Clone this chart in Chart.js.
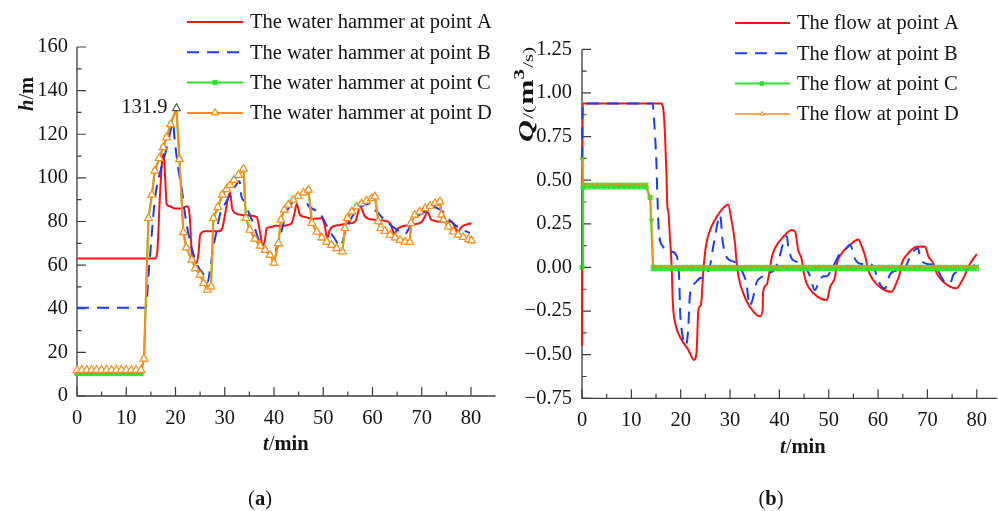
<!DOCTYPE html>
<html>
<head>
<meta charset="utf-8">
<script src="https://cdn.jsdelivr.net/npm/chart.js@4.4.1/dist/chart.umd.min.js"></script>
<style>
  html, body { margin: 0; padding: 0; background: #fff; }
  #wrap { position: relative; width: 998px; height: 511px; overflow: hidden; }
  .pane { position: absolute; top: 0; width: 499px; height: 511px; }
  #pa { left: 0; }
  #pb { left: 499px; }
</style>
</head>
<body>
<div id="wrap">
  <div class="pane" id="pa"><canvas id="ca" width="499" height="511"></canvas></div>
  <div class="pane" id="pb"><canvas id="cb" width="499" height="511"></canvas></div>
</div>
<script>
// ---------- tick labels ----------
const timeTicks = [0, 10, 20, 30, 40, 50, 60, 70, 80];
const headTicks = [0, 20, 40, 60, 80, 100, 120, 140, 160];
const flowTicks = [-0.75, -0.5, -0.25, 0, 0.25, 0.5, 0.75, 1.0, 1.25];

// ---------- legend labels ----------
const headLabels = ['The water hammer at point A', 'The water hammer at point B',
                    'The water hammer at point C', 'The water hammer at point D'];
const flowLabels = ['The flow at point A', 'The flow at point B',
                    'The flow at point C', 'The flow at point D'];

// ---------- (a) water hammer head h (m) vs time t (min) ----------
const headA = [[0,63],[15.8,63],[16.3,66],[16.8,90],[17.3,108],[17.6,111],[17.9,100],[18.2,88],[18.8,87],
  [19.9,86],[21.2,86],[22.3,87],[22.6,86.5],[22.9,82],[23.3,66],[23.8,62],[24.3,61],[24.7,66],[25.0,73.8],
  [26,75.5],[27,75.5],[28.7,75.5],[29.5,77],[30.2,85],[30.8,92],[31.1,93.2],[31.5,86],[32,84],[33.5,83],
  [35,82.8],[36.5,82],[37.1,76],[37.7,69],[38.2,72],[38.5,76.9],[39.5,77.5],[40.2,78],[41.5,78],[43.5,79],
  [44.2,84],[44.6,88],[45.3,83],[46.5,82],[47.7,81.2],[49.7,81.5],[50.3,78],[50.8,72.3],[51.3,76],
  [51.7,77.3],[53.4,78.4],[55.4,79.2],[56.5,80],[57.5,86.8],[58.5,82.2],[59.5,81],[60.9,80.7],[62.2,80.4],
  [63.6,79.2],[64.1,76],[64.4,74.3],[65.2,76.9],[67.6,78.4],[70,79.9],[70.6,82],[71.1,84.5],[72,80.7],
  [74,79.9],[76.1,79.9],[76.8,77],[77.4,75.3],[78.1,77.6],[80.1,79.2]];

const headB = [[0,40.5],[14.0,40.5],[14.5,54.7],[15.2,74.6],[15.8,89.9],[16.9,102.8],[18.2,113.6],
  [19.2,123.5],[19.5,125],[19.9,115.9],[20.6,103.6],[21.3,94.5],[21.9,83.8],[22.6,74.6],[23.6,65.4],
  [24.6,59.3],[25.5,56.5],[26.0,54.7],[26.5,52],[27.0,57.8],[27.7,68.5],[28.4,76.1],[29.0,83],[30.1,88.3],
  [31.1,92.2],[32.1,96],[33.0,98.5],[33.4,91.4],[34.1,89.1],[34.8,84.5],[35.8,79.2],[36.8,72.3],[37.8,68],
  [38.8,65.5],[39.9,63.9],[40.9,71.5],[41.6,76.1],[42.5,84],[43.5,88],[44.5,90.5],[45.5,92.5],[46.3,93.5],
  [46.8,88],[47.7,86],[49.3,83.9],[50.5,79],[51.5,75],[52.5,71.5],[53.4,68.5],[54.8,77.6],[55.8,82],
  [57,85.5],[58.3,87.5],[59.5,88.3],[60.1,86],[60.9,84.5],[62.3,81],[63.6,78.5],[64.8,76.5],[66.0,75],
  [66.6,74.2],[67.2,76],[68.0,79.5],[69.5,83],[71,85],[72.3,86.8],[73.2,86],[74.3,84.5],[75.5,81],
  [77,78],[78.5,76],[79.8,74.7]];

const headC = [[0,10.3],[1,10.3],[2,10.3],[3,10.3],[4,10.3],[5,10.3],[6,10.3],[7,10.3],[8,10.3],[9,10.3],
  [10,10.3],[11,10.3],[12,10.3],[13,10.3],[13.6,17],[14.5,81.5],[15.2,92.2],[15.8,103.2],[16.7,109],
  [17.5,114],[18.2,118.5],[19.0,124.5],[20.2,131.9],[20.8,108.5],[21.6,75],[22.2,68],[23.3,62.4],[24.0,58.5],
  [25.0,55.5],[25.7,51.7],[26.5,48.6],[27.2,50.1],[27.7,81.5],[28.6,86.5],[29.5,92.2],[30.4,94.9],[31.1,96.7],
  [31.9,99],[32.8,101.3],[33.8,104.1],[34.3,81.5],[35.1,76.1],[36.1,72],[37.2,68.8],[38.2,66.9],[39.2,64.6],
  [40.0,61],[40.9,70],[41.4,80.7],[42.1,85.3],[42.9,87.6],[43.9,89.9],[44.9,91.7],[46.0,93.2],[47.0,94.5],
  [47.7,79.2],[48.7,75.3],[49.7,72.6],[50.7,70.7],[51.7,69.2],[52.7,67.7],[53.9,66.2],[54.4,76.9],[54.9,81.5],
  [55.8,84.5],[56.8,86.8],[57.8,88.3],[58.8,89.5],[59.8,90.6],[60.5,91.4],[61.2,80],[61.7,77],[62.5,75.6],
  [63.6,73.8],[64.6,72.6],[65.6,71.5],[66.6,70.7],[67.6,70.5],[67.8,79.2],[68.6,83],[69.6,84.5],[70.7,86],
  [71.7,87.1],[72.7,88.3],[73.7,89.1],[74.0,83],[74.4,80.7],[75.4,77.6],[76.4,75.3],[77.4,73.8],[78.4,72.8],
  [79.5,71.8],[80.1,71.2]];

const headD = [[0,11.9],[1,11.9],[2,11.9],[3,11.9],[4,11.9],[5,11.9],[6,11.9],[7,11.9],[8,11.9],[9,11.9],
  [10,11.9],[11,11.9],[12,11.9],[13,11.9],[13.6,17],[14.5,81.5],[15.2,92.2],[15.8,103.2],[16.7,109],
  [17.5,114],[18.2,118.5],[19.0,124.5],[20.2,131.9],[20.8,108.5],[21.6,75],[22.2,68],[23.3,62.4],[24.0,58.5],
  [25.0,55.5],[25.7,51.7],[26.5,48.6],[27.2,50.1],[27.7,81.5],[28.6,86.5],[29.5,92.2],[30.4,94.9],[31.1,96.7],
  [31.9,99],[32.8,101.3],[33.8,104.1],[34.3,81.5],[35.1,76.1],[36.1,72],[37.2,68.8],[38.2,66.9],[39.2,64.6],
  [40.0,61],[40.9,70],[41.4,80.7],[42.1,85.3],[42.9,87.6],[43.9,89.9],[44.9,91.7],[46.0,93.2],[47.0,94.5],
  [47.7,79.2],[48.7,75.3],[49.7,72.6],[50.7,70.7],[51.7,69.2],[52.7,67.7],[53.9,66.2],[54.4,76.9],[54.9,81.5],
  [55.8,84.5],[56.8,86.8],[57.8,88.3],[58.8,89.5],[59.8,90.6],[60.5,91.4],[61.2,80],[61.7,77],[62.5,75.6],
  [63.6,73.8],[64.6,72.6],[65.6,71.5],[66.6,70.7],[67.6,70.5],[67.8,79.2],[68.6,83],[69.6,84.5],[70.7,86],
  [71.7,87.1],[72.7,88.3],[73.7,89.1],[74.0,83],[74.4,80.7],[75.4,77.6],[76.4,75.3],[77.4,73.8],[78.4,72.8],
  [79.5,71.8],[80.1,71.2]];

// ---------- (b) flow Q (m3/s) vs time t (min) ----------
const flowA = [[0,-0.45],[0.15,0.94],[16.0,0.94],[16.5,0.90],[16.8,0.77],[17.1,0.55],[17.3,0.35],[17.5,0.32],
  [17.8,0.18],[18.2,-0.015],[18.4,-0.2],[18.9,-0.32],[19.9,-0.40],[21.5,-0.47],[22.7,-0.53],[23.2,-0.49],
  [23.6,-0.24],[24.1,-0.215],[24.6,-0.015],[25.1,0.12],[25.9,0.21],[27.3,0.29],[28.6,0.34],[29.6,0.36],
  [30.3,0.27],[31.0,0.14],[31.3,0.04],[31.7,-0.05],[32.7,-0.15],[34.0,-0.225],[36.1,-0.28],[36.6,-0.245],
  [36.7,-0.14],[37.4,-0.10],[38.0,-0.024],[38.4,0.05],[39.1,0.11],[40.8,0.176],[42.5,0.214],[43.2,0.205],
  [43.8,0.10],[44.5,0.05],[44.9,-0.024],[45.5,-0.09],[46.9,-0.148],[49.6,-0.187],[50.3,-0.11],[51.3,-0.052],
  [51.6,0.015],[52.6,0.08],[54.0,0.12],[56.0,0.16],[56.7,0.12],[57.4,0.063],[58.0,-0.015],[59.0,-0.072],
  [60.7,-0.12],[62.7,-0.14],[63.7,-0.09],[64.4,-0.034],[64.8,0.023],[65.8,0.071],[67.8,0.118],[69.5,0.12],
  [70.2,0.063],[71.2,0.023],[71.9,-0.034],[73.2,-0.082],[75.9,-0.12],[76.9,-0.082],[77.6,-0.043],
  [78.3,0.005],[80.0,0.077]];

const flowB = [[0,0.62],[0.15,0.94],[14.3,0.94],[14.6,0.85],[15.1,0.58],[15.3,0.39],[15.6,0.195],[16.4,0.12],
  [16.8,0.10],[18.2,0.09],[19.2,0.063],[19.7,-0.07],[19.9,-0.26],[20.2,-0.36],[21.1,-0.445],[21.5,-0.36],
  [21.9,-0.15],[22.9,-0.09],[23.9,-0.062],[24.9,-0.052],[25.9,0.005],[26.6,0.12],[27.6,0.27],[28.0,0.30],
  [28.5,0.15],[29.0,0.08],[29.7,0.045],[31.0,0.03],[32.4,-0.02],[33.3,-0.09],[34.0,-0.22],[34.6,-0.18],
  [35.4,-0.085],[36.4,-0.055],[38.0,-0.03],[38.8,-0.02],[39.8,0.04],[40.8,0.14],[41.5,0.18],[41.8,0.12],
  [42.5,0.05],[43.8,0.03],[45.2,0.005],[46.2,-0.05],[47.2,-0.13],[47.9,-0.09],[48.9,-0.05],[49.6,-0.05],
  [50.6,-0.01],[52.3,0.08],[53.3,0.10],[54.3,0.13],[55.0,0.08],[55.3,0.05],[56.6,0.02],[58.4,0.02],
  [59.4,-0.02],[59.7,-0.05],[60.7,-0.11],[61.4,-0.12],[62.4,-0.04],[63.4,-0.02],[65.1,-0.015],[66.8,0.08],
  [68.1,0.11],[68.5,0.06],[68.8,0.04],[69.9,0.02],[71.6,0.01],[72.9,-0.06],[73.9,-0.09],[74.6,-0.09],
  [75.3,-0.04],[76.3,-0.025],[78,-0.01],[80,0.02]];

const flowC = [[0,0],[0.2,0.46],[1,0.46],[2,0.46],[3,0.46],[4,0.46],[5,0.46],[6,0.46],[7,0.46],[8,0.46],
  [9,0.46],[10,0.46],[11,0.46],[12,0.46],[13,0.46],[13.8,0.40],[14.4,-0.008],[15,-0.008],[16,-0.008],
  [17,-0.008],[18,-0.008],[19,-0.008],[20,-0.008],[21,-0.008],[22,-0.008],[23,-0.008],[24,-0.008],
  [25,-0.008],[26,-0.008],[27,-0.008],[28,-0.008],[29,-0.008],[30,-0.008],[31,-0.008],[32,-0.008],
  [33,-0.008],[34,-0.008],[35,-0.008],[36,-0.008],[37,-0.008],[38,-0.008],[39,-0.008],[40,-0.008],
  [41,-0.008],[42,-0.008],[43,-0.008],[44,-0.008],[45,-0.008],[46,-0.008],[47,-0.008],[48,-0.008],
  [49,-0.008],[50,-0.008],[51,-0.008],[52,-0.008],[53,-0.008],[54,-0.008],[55,-0.008],[56,-0.008],
  [57,-0.008],[58,-0.008],[59,-0.008],[60,-0.008],[61,-0.008],[62,-0.008],[63,-0.008],[64,-0.008],
  [65,-0.008],[66,-0.008],[67,-0.008],[68,-0.008],[69,-0.008],[70,-0.008],[71,-0.008],[72,-0.008],
  [73,-0.008],[74,-0.008],[75,-0.008],[76,-0.008],[77,-0.008],[78,-0.008],[79,-0.008],[80,-0.008]];

const flowD = [[0,0.62],[0.2,0.476],[1,0.476],[2,0.476],[3,0.476],[4,0.476],[5,0.476],[6,0.476],[7,0.476],
  [8,0.476],[9,0.476],[10,0.476],[11,0.476],[12,0.476],[13,0.476],[13.8,0.405],[14.1,0.27],[14.4,0.005],
  [15,0.005],[16,0.005],[17,0.005],[18,0.005],[19,0.005],[20,0.005],[21,0.005],[22,0.005],[23,0.005],
  [24,0.005],[25,0.005],[26,0.005],[27,0.005],[28,0.005],[29,0.005],[30,0.005],[31,0.005],[32,0.005],
  [33,0.005],[34,0.005],[35,0.005],[36,0.005],[37,0.005],[38,0.005],[39,0.005],[40,0.005],[41,0.005],
  [42,0.005],[43,0.005],[44,0.005],[45,0.005],[46,0.005],[47,0.005],[48,0.005],[49,0.005],[50,0.005],
  [51,0.005],[52,0.005],[53,0.005],[54,0.005],[55,0.005],[56,0.005],[57,0.005],[58,0.005],[59,0.005],
  [60,0.005],[61,0.005],[62,0.005],[63,0.005],[64,0.005],[65,0.005],[66,0.005],[67,0.005],[68,0.005],
  [69,0.005],[70,0.005],[71,0.005],[72,0.005],[73,0.005],[74,0.005],[75,0.005],[76,0.005],[77,0.005],
  [78,0.005],[79,0.005],[80,0.005]];

// ---------- styling ----------
const SERIF = "'Liberation Serif', 'Times New Roman', Times, serif";
const FS = 20.5;
const TEXT = '#151515';
const AXIS = '#3c3c3c';
const RED = '#ff1010', BLUE = '#1a3cff', GREEN = '#2ee02e', ORANGE = '#ff8a1a';

const pts = arr => arr.map(([x, y]) => ({ x, y }));
const f = (style, size) => `${style} ${size}px ${SERIF}`;

function drawRuns(ctx, runs, x, y) {
  let cx = x;
  runs.forEach(r => {
    ctx.font = r.font;
    ctx.fillText(r.t, cx, y + (r.dy || 0));
    cx += ctx.measureText(r.t).width + (r.gap || 0);
  });
}
function runsWidth(ctx, runs) {
  let w = 0;
  runs.forEach(r => { ctx.font = r.font; w += ctx.measureText(r.t).width + (r.gap || 0); });
  return w;
}

// Axis lines and inward major/minor tick marks, drawn from the scales
function drawFrame(chart, cfg) {
  const { ctx, chartArea: a, scales: { x, y } } = chart;
  ctx.save();
  ctx.strokeStyle = AXIS;
  ctx.lineWidth = 1.3;
  ctx.beginPath();
  ctx.moveTo(a.left, y.getPixelForValue(y.max));
  ctx.lineTo(a.left, a.bottom);
  ctx.lineTo(a.right, a.bottom);
  ctx.stroke();
  ctx.lineWidth = 1.2;
  ctx.beginPath();
  cfg.xTicks.forEach((v, i) => {
    const px = x.getPixelForValue(v);
    ctx.moveTo(px, a.bottom); ctx.lineTo(px, a.bottom - 9);
    if (i < cfg.xTicks.length - 1) {
      const pm = x.getPixelForValue((v + cfg.xTicks[i + 1]) / 2);
      ctx.moveTo(pm, a.bottom); ctx.lineTo(pm, a.bottom - 4.5);
    }
  });
  cfg.yTicks.forEach((v, i) => {
    const py = y.getPixelForValue(v);
    ctx.moveTo(a.left, py); ctx.lineTo(a.left + 9, py);
    if (i < cfg.yTicks.length - 1) {
      const pm = y.getPixelForValue((v + cfg.yTicks[i + 1]) / 2);
      ctx.moveTo(a.left, pm); ctx.lineTo(a.left + 4.5, pm);
    }
  });
  ctx.stroke();
  ctx.restore();
}

function drawLegend(chart, L) {
  const ctx = chart.ctx;
  L.labels.forEach((txt, i) => {
    const ds = chart.data.datasets[i];
    const yy = L.y0 + i * L.dy;
    ctx.save();
    ctx.strokeStyle = ds.borderColor;
    ctx.lineWidth = ds.borderWidth;
    ctx.setLineDash(ds.borderDash || []);
    ctx.beginPath(); ctx.moveTo(L.x1, yy); ctx.lineTo(L.x2, yy); ctx.stroke();
    ctx.setLineDash([]);
    const m = L.markers[i];
    if (m) {
      ctx.fillStyle = m.fill; ctx.strokeStyle = m.stroke; ctx.lineWidth = m.bw;
      Chart.helpers.drawPoint(ctx, { pointStyle: m.style, radius: m.r, rotation: 0, borderWidth: m.bw },
        L.mx, yy);
    }
    ctx.fillStyle = TEXT;
    ctx.font = f('normal', FS);
    ctx.textAlign = 'left';
    ctx.textBaseline = 'middle';
    ctx.fillText(txt, L.tx, yy + 1);
    ctx.restore();
  });
}

function makeDecor(cfg) {
  return {
    id: 'decor' + cfg.name,
    beforeDatasetsDraw(chart) { drawFrame(chart, cfg); },
    afterDraw(chart) {
      const ctx = chart.ctx;
      ctx.save();
      ctx.fillStyle = TEXT;
      ctx.textBaseline = 'alphabetic';
      ctx.textAlign = 'left';
      // x axis title
      drawRuns(ctx, cfg.xTitle, cfg.xTitlePos[0], cfg.xTitlePos[1]);
      // y axis title (rotated, reads bottom to top)
      ctx.save();
      ctx.translate(cfg.yTitlePos[0], cfg.yTitlePos[1]);
      ctx.rotate(-Math.PI / 2);
      ctx.scale(cfg.yTitleStretch || 1, 1);
      drawRuns(ctx, cfg.yTitle, 0, 0);
      ctx.restore();
      // panel caption
      const w = runsWidth(ctx, cfg.caption);
      drawRuns(ctx, cfg.caption, cfg.captionPos[0] - w / 2, cfg.captionPos[1]);
      if (cfg.extra) cfg.extra(chart);
      ctx.restore();
      drawLegend(chart, cfg.legend);
    }
  };
}

// Ticks come from the label arrays; the fixed box size and zeroed edge
// padding keep the plot area where the layout padding puts it.
function axisOpts(min, max, ticksArr, fmt, fitKey, fitVal, pad) {
  return {
    type: 'linear', min, max,
    afterBuildTicks: s => { s.ticks = ticksArr.map(v => ({ value: v })); },
    afterFit: s => {
      s[fitKey] = fitVal;
      s.paddingLeft = 0; s.paddingRight = 0; s.paddingTop = 0; s.paddingBottom = 0;
    },
    grid: { display: false, drawTicks: false },
    border: { display: false },
    ticks: {
      color: TEXT, padding: pad, autoSkip: false, maxRotation: 0,
      font: { family: SERIF, size: FS },
      callback: fmt
    }
  };
}

const commonOpts = {
  responsive: false,
  animation: false,
  devicePixelRatio: 1,
  events: [],
  plugins: { legend: { display: false }, tooltip: { enabled: false } }
};

// ---------- (a) ----------
const peakD = headD.reduce((m, p) => (p[1] > m[1] ? p : m), headD[0]);

new Chart(document.getElementById('ca'), {
  type: 'line',
  data: {
    datasets: [
      { data: pts(headA), borderColor: RED, borderWidth: 2, pointRadius: 0,
        cubicInterpolationMode: 'monotone', order: 4, clip: 6 },
      { data: pts(headB), borderColor: BLUE, borderWidth: 2, borderDash: [12, 8], pointRadius: 0,
        cubicInterpolationMode: 'monotone', order: 3, clip: 6 },
      { data: pts(headC), borderColor: GREEN, borderWidth: 2, pointStyle: 'rect', pointRadius: 3,
        pointBackgroundColor: GREEN, pointBorderColor: GREEN, pointBorderWidth: 1, order: 2, clip: 8 },
      { data: pts(headD), borderColor: ORANGE, borderWidth: 2, pointStyle: 'triangle', pointRadius: 4.5,
        pointBackgroundColor: '#ffffff',
        pointBorderColor: c => (c.raw && c.raw.y === peakD[1] ? '#555555' : ORANGE),
        pointBorderWidth: 1.2, order: 1, clip: 8 }
    ]
  },
  options: Object.assign({}, commonOpts, {
    layout: { autoPadding: false, padding: { top: 47, right: 3.4, left: 0, bottom: 0 } },
    scales: {
      x: axisOpts(0, 85, timeTicks, v => String(v), 'height', 115, 10),
      y: axisOpts(0, 160, headTicks, v => String(v), 'width', 77, 9)
    }
  }),
  plugins: [makeDecor({
    name: 'A',
    xTicks: timeTicks, yTicks: headTicks,
    xTitle: [{ t: 't', font: f('italic bold', FS) }, { t: '/', font: f('normal', FS) },
             { t: 'min', font: f('bold', FS) }],
    xTitlePos: [263, 450],
    yTitle: [{ t: 'h', font: f('italic bold', FS) }, { t: '/', font: f('normal', FS) },
             { t: 'm', font: f('bold', FS) }],
    yTitlePos: [33, 111],
    caption: [{ t: '(', font: f('normal', FS) }, { t: 'a', font: f('bold', FS) }, { t: ')', font: f('normal', FS) }],
    captionPos: [260, 505],
    legend: {
      labels: headLabels, x1: 187, x2: 243, mx: 215, tx: 250, y0: 22, dy: 30.3,
      markers: [null, null,
        { style: 'rect', r: 3, fill: GREEN, stroke: GREEN, bw: 1 },
        { style: 'triangle', r: 4, fill: '#ffffff', stroke: ORANGE, bw: 1.2 }]
    },
    extra: chart => {
      const { ctx, scales: { x, y } } = chart;
      const px = x.getPixelForValue(peakD[0]);
      const py = y.getPixelForValue(peakD[1]);
      ctx.font = f('normal', FS);
      ctx.textAlign = 'right';
      ctx.textBaseline = 'alphabetic';
      ctx.fillText(peakD[1].toFixed(1), px - 9, py + 5);
    }
  })]
});

// ---------- (b) ----------
const fmtFlow = v => (v < 0 ? '\u2212' : '') + Math.abs(v).toFixed(2);

new Chart(document.getElementById('cb'), {
  type: 'line',
  data: {
    datasets: [
      { data: pts(flowA), borderColor: RED, borderWidth: 2, pointRadius: 0,
        cubicInterpolationMode: 'monotone', order: 4, clip: 6 },
      { data: pts(flowB), borderColor: BLUE, borderWidth: 2, borderDash: [12, 8], pointRadius: 0,
        cubicInterpolationMode: 'monotone', order: 3, clip: 6 },
      { data: pts(flowC), borderColor: GREEN, borderWidth: 2, pointStyle: 'rect', pointRadius: 2.6,
        pointBackgroundColor: 'rgba(255,255,255,0)', pointBorderColor: GREEN, pointBorderWidth: 1.2,
        order: 2, clip: 8 },
      { data: pts(flowD), borderColor: ORANGE, borderWidth: 1.5, pointStyle: 'triangle', pointRadius: 2.6,
        pointRotation: 180, pointBackgroundColor: ORANGE, pointBorderColor: GREEN, pointBorderWidth: 0.8,
        order: 1, clip: 8 }
    ]
  },
  options: Object.assign({}, commonOpts, {
    layout: { autoPadding: false, padding: { top: 49.3, right: 1, left: 0, bottom: 0 } },
    scales: {
      x: axisOpts(0, 84.1, timeTicks, v => String(v), 'height', 112.7, 10),
      y: axisOpts(-0.75, 1.25, flowTicks, fmtFlow, 'width', 83, 10)
    }
  }),
  plugins: [makeDecor({
    name: 'B',
    xTicks: timeTicks, yTicks: flowTicks,
    xTitle: [{ t: 't', font: f('italic bold', FS) }, { t: '/', font: f('normal', FS) },
             { t: 'min', font: f('bold', FS) }],
    xTitlePos: [281, 453],
    yTitle: [{ t: 'Q', font: f('italic bold', 22), gap: 1 },
             { t: '/(', font: f('normal', 15), gap: 1 },
             { t: 'm', font: f('bold', 22), gap: 0 },
             { t: '3', font: f('bold', 15), dy: -9, gap: 1 },
             { t: '/s)', font: f('normal', 15) }],
    yTitleStretch: 1.38,
    yTitlePos: [34, 142],
    caption: [{ t: '(', font: f('normal', FS) }, { t: 'b', font: f('bold', FS) }, { t: ')', font: f('normal', FS) }],
    captionPos: [272, 505],
    legend: {
      labels: flowLabels, x1: 236, x2: 291, mx: 263, tx: 298, y0: 23, dy: 30.3,
      markers: [null, null,
        { style: 'rect', r: 2.6, fill: GREEN, stroke: GREEN, bw: 1 },
        { style: 'triangle', r: 2.5, fill: '#ffffff', stroke: ORANGE, bw: 1 }]
    }
  })]
});
</script>
</body>
</html>
